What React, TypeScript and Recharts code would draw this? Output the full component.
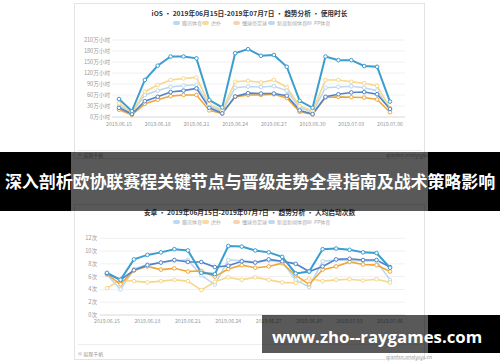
import React from 'react';
import { LineChart, Line, XAxis, YAxis, CartesianGrid } from 'recharts';

const dates = [
  '2019.06.15', '2019.06.16', '2019.06.17', '2019.06.18', '2019.06.19', '2019.06.20', '2019.06.21',
  '2019.06.22', '2019.06.23', '2019.06.24', '2019.06.25', '2019.06.26', '2019.06.27', '2019.06.28',
  '2019.06.29', '2019.06.30', '2019.07.01', '2019.07.02', '2019.07.03', '2019.07.04', '2019.07.05',
  '2019.07.06',
];

const seriesNames = ['腾讯体育', '虎扑', '懂球帝足球', '新浪新闻体育', 'PP体育'];

// iOS usage time (万小时)
const iosA = [49, 16, 101, 140, 165, 165, 160, 46, 26, 174, 185, 167, 169, 137, 44, 25, 165, 155, 155, 139, 137, 42];
const iosB = [37, 12, 69, 87, 101, 105, 108, 35, 19, 96, 99, 94, 101, 81, 30, 17, 101, 101, 96, 92, 85, 24];
const iosC = [30, 12, 60, 72, 82, 86, 88, 30, 15, 80, 83, 82, 84, 72, 25, 13, 80, 82, 84, 80, 72, 20];
const iosD = [25, 8, 43, 55, 68, 72, 78, 25, 10, 56, 65, 64, 64, 58, 18, 8, 55, 62, 67, 68, 62, 22];
const iosE = [20, 6, 36, 47, 57, 60, 60, 18, 9, 55, 60, 60, 62, 52, 14, 7, 53, 55, 54, 53, 48, 13];

// Android launches per user (次)
const andA = [6.6, 5.5, 8.7, 9.4, 9.8, 10.3, 10.1, 6.6, 6.4, 10.8, 10.7, 10.1, 9.8, 9.1, 6.5, 6.8, 10.3, 10.4, 10.2, 9.8, 9.7, 7.4];
const andB = [4.2, 5.5, 5.3, 5.1, 5.3, 5.5, 5.3, 3.9, 5.2, 5.9, 5.5, 5.9, 5.5, 5.1, 5.0, 5.7, 5.3, 5.5, 5.6, 5.4, 5.6, 5.1];
const andC = [6.3, 4.0, 7.2, 7.9, 8.2, 8.5, 8.6, 6.2, 4.8, 8.6, 8.5, 8.3, 8.5, 8.3, 5.5, 4.4, 8.4, 8.6, 8.5, 8.5, 8.4, 5.5];
const andD = [6.5, 5.5, 7.0, 7.8, 8.2, 8.6, 8.3, 8.3, 7.5, 7.7, 8.4, 8.2, 8.7, 8.4, 8.0, 6.8, 7.6, 8.7, 8.8, 8.6, 8.6, 7.5];
const andE = [6.4, 4.8, 7.0, 7.6, 7.1, 7.3, 6.8, 6.9, 6.0, 7.2, 7.8, 7.4, 7.6, 8.1, 6.2, 4.8, 7.1, 7.6, 8.3, 7.9, 7.8, 6.8];

const iosTicks = [0, 30, 60, 90, 120, 150, 180, 210];
const andTicks = [0, 2, 4, 6, 8, 10, 12];

const iosTitle = 'iOS • 2019年06月15日-2019年07月7日 • 趋势分析 • 使用时长';
const andTitle = '安卓 • 2019年06月15日-2019年07月7日 • 趋势分析 • 人均启动次数';
const bannerText = '深入剖析欧协联赛程关键节点与晋级走势全景指南及战术策略影响';
const watermark = 'www.zho--raygames.com';

const COL = { A: '#3c9dd0', B: '#f7d88a', C: '#bcd8f0', D: '#4f84cb', E: '#f0a73a' };
const legendColors = ['#b9d9f2', '#f6dc9c', '#f8d3ae', '#c3d6ef', '#dcdcf0'];
const legendX = [173, 202, 233, 268, 305];

const iosData = dates.map((d, i) => ({ d, A: iosA[i], B: iosB[i], C: iosC[i], D: iosD[i], E: iosE[i] }));
const andData = dates.map((d, i) => ({ d, A: andA[i], B: andB[i], C: andC[i], D: andD[i], E: andE[i] }));

const FONT = '"Noto Sans CJK SC", "Noto Sans", sans-serif';

function Legend({ top }: { top: number }) {
  return (
    <>
      {seriesNames.map((n, i) => (
        <div key={n} style={{ position: 'absolute', left: legendX[i], top: top - 3, display: 'flex', alignItems: 'center', height: 6 }}>
          <div style={{ width: 7, height: 4, borderRadius: 2, background: legendColors[i], marginRight: 2 }} />
          <span style={{ fontSize: 5, color: '#aaa', whiteSpace: 'nowrap', lineHeight: '6px' }}>{n}</span>
        </div>
      ))}
    </>
  );
}

function Lines() {
  const mk = (k: 'A' | 'B' | 'C' | 'D' | 'E', w: number) => (
    <Line
      key={k}
      dataKey={k}
      stroke={COL[k]}
      strokeWidth={w}
      dot={{ r: 1.8, fill: '#fff', stroke: COL[k], strokeWidth: 1 }}
      isAnimationActive={false}
    />
  );
  return [mk('C', 1.6), mk('B', 1.6), mk('E', 1.6), mk('D', 1.6), mk('A', 2)];
}

function Card({ top, height }: { top: number; height: number }) {
  return (
    <div style={{ position: 'absolute', left: 74, top, width: 351, height, border: '1px solid #e4e4e4', background: '#fff', boxSizing: 'border-box' }} />
  );
}

export default function App() {
  const tick = { fill: '#999', fontSize: 5.2, fontFamily: FONT };
  const ytick = { fill: '#999', fontSize: 5.6, fontFamily: FONT };
  return (
    <div style={{ position: 'absolute', left: 0, top: 0, width: 500, height: 362, background: '#fff', overflow: 'hidden', fontFamily: FONT }}>
      <Card top={3} height={156} />
      <Card top={204} height={156} />

      {/* card 1 */}
      <div style={{ position: 'absolute', left: 74, width: 351, top: 8, textAlign: 'center', fontSize: 6.7, fontWeight: 700, color: '#333', whiteSpace: 'nowrap' }}>{iosTitle}</div>
      <Legend top={23} />
      <div style={{ position: 'absolute', left: 0, top: 0 }}>
        <LineChart width={500} height={135} data={iosData} margin={{ top: 40, right: 95, left: 0, bottom: 0 }}>
          <CartesianGrid vertical={false} stroke="#f0f0f0" />
          <XAxis dataKey="d" interval={2} tickLine={false} tickSize={0} tickMargin={5} height={18} padding={{ left: 7, right: 15 }} stroke="#e0e0e0" tick={tick} />
          <YAxis width={112} domain={[0, 210]} ticks={iosTicks} interval={0} tickFormatter={(v: number) => `${v}万小时`} axisLine={false} tickLine={false} tickSize={0} tickMargin={2} tick={ytick} />
          {Lines()}
        </LineChart>
      </div>
      <div style={{ position: 'absolute', left: 78, top: 150, right: 78, height: 0, borderTop: '1px solid #eee' }} />
      <div style={{ position: 'absolute', left: 78, top: 151, fontSize: 5, color: '#999' }}>© 易观千帆</div>
      <div style={{ position: 'absolute', left: 386, top: 151, fontSize: 5, color: '#999' }}>qianfan.analysys.cn</div>

      {/* card 2 */}
      <div style={{ position: 'absolute', left: 74, width: 351, top: 207, textAlign: 'center', fontSize: 6.7, fontWeight: 700, color: '#333', whiteSpace: 'nowrap' }}>{andTitle}</div>
      <Legend top={222} />
      <div style={{ position: 'absolute', left: 0, top: 200 }}>
        <LineChart width={500} height={135} data={andData} margin={{ top: 38.3, right: 95, left: 0, bottom: 0 }}>
          <CartesianGrid vertical={false} stroke="#f0f0f0" />
          <XAxis dataKey="d" interval={2} tickLine={false} tickSize={0} tickMargin={4} height={20} padding={{ left: 7, right: 15 }} stroke="#e0e0e0" tick={tick} />
          <YAxis width={100} domain={[0, 12]} ticks={andTicks} interval={0} tickFormatter={(v: number) => `${v}次`} axisLine={false} tickLine={false} tickSize={0} tickMargin={3} tick={ytick} />
          {Lines()}
        </LineChart>
      </div>
      <div style={{ position: 'absolute', left: 78, top: 344, right: 78, height: 0, borderTop: '1px solid #eee' }} />
      <div style={{ position: 'absolute', left: 78, top: 350, fontSize: 5, color: '#999' }}>© 易观千帆</div>
      <div style={{ position: 'absolute', left: 386, top: 353, fontSize: 5, color: '#999' }}>qianfan.analysys.cn</div>

      {/* banner */}
      <div style={{ position: 'absolute', left: 0, top: 152, width: 71, height: 59, background: '#000' }} />
      <div style={{ position: 'absolute', left: 428, top: 152, width: 72, height: 59, background: '#000' }} />
      <div style={{ position: 'absolute', left: 71, top: 152, width: 357, height: 59, background: 'rgba(0,0,0,0.65)' }} />
      <div style={{ position: 'absolute', left: 0, top: 152, width: 500, height: 57, display: 'flex', alignItems: 'center', justifyContent: 'center', color: '#fff', fontSize: 17, fontWeight: 700, whiteSpace: 'nowrap', letterSpacing: -0.1 }}>{bannerText}</div>

      {/* watermark */}
      <div style={{ position: 'absolute', left: 262, top: 315, width: 166, height: 38, background: 'rgba(0,0,0,0.65)' }} />
      <div style={{ position: 'absolute', left: 428, top: 315, width: 72, height: 38, background: '#000' }} />
      <div style={{ position: 'absolute', left: 262, top: 320, width: 238, height: 32, display: 'flex', alignItems: 'center', paddingLeft: 10, boxSizing: 'border-box', color: '#fff', fontSize: 16.8, fontWeight: 700, whiteSpace: 'nowrap', fontFamily: '"Open Sans", "Noto Sans", sans-serif' }}>{watermark}</div>
    </div>
  );
}
